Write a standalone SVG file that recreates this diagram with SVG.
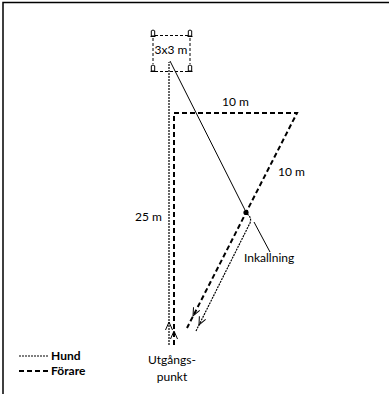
<svg xmlns="http://www.w3.org/2000/svg" xmlns:xlink="http://www.w3.org/1999/xlink" width="391" height="394" viewBox="0 0 391 394">
<style>
text{font-family:"Lato","Open Sans","DejaVu Sans",sans-serif;font-size:12px;fill:#000}
.b{font-weight:bold}
.hund{fill:none;stroke:#000;stroke-width:1.2;stroke-dasharray:2 1}
.forare{fill:none;stroke:#000;stroke-width:2;stroke-dasharray:5 3}
.solid{fill:none;stroke:#000;stroke-width:1}
.sq{fill:none;stroke:#000;stroke-width:1;stroke-dasharray:3 2}
.cone{fill:#fff;stroke:#000;stroke-width:1}
.chev{fill:none;stroke:#000;stroke-width:1}
</style>
<defs>
<path id="chev" d="M-8,-3.5 L0,0 L-8,3.5"/>
<g id="cone"><path d="M-1.7,6 L-1.7,0.8 Q0,-0.8 1.7,0.8 L1.7,6 Z"/><path d="M-2.5,6.5 L2.5,6.5"/></g>
</defs>
<rect width="391" height="394" fill="#fff"/>
<path d="M3,394 L3,2.5 L389,2.5" fill="none" stroke="#000" stroke-width="1.5"/>
<g id="square">
<path class="sq" d="M155,35.5 L188,35.5 M155,71.5 L188,71.5 M153,38 L153,64 M190,38 L190,64"/>
<g class="cone">
<use xlink:href="#cone" transform="translate(153,30)"/>
<use xlink:href="#cone" transform="translate(190,30)"/>
<use xlink:href="#cone" transform="translate(153,65)"/>
<use xlink:href="#cone" transform="translate(190,65)"/>
</g>
<text x="171" y="54" text-anchor="middle">3x3 m</text>
</g>
<g id="connectors">
<path class="hund" d="M169,345 L169,62"/>
<path class="solid" d="M170,61 L246,212"/>
<path class="forare" d="M174,345 L174,113 L297,113 L187,328"/>
<path class="hund" d="M247,214 Q252,217 250,223 L196,331"/>
<g class="chev">
<use xlink:href="#chev" transform="translate(169,322) rotate(-90)"/>
<use xlink:href="#chev" transform="translate(174,331) rotate(-90)"/>
<use xlink:href="#chev" transform="translate(193,316) rotate(117)"/>
<use xlink:href="#chev" transform="translate(199,325) rotate(116)"/>
</g>
<path class="solid" d="M254,222 L270,252"/>
</g>
<g id="inkallning">
<circle cx="246" cy="212.5" r="2.6" fill="#000"/>
<text x="244" y="262">Inkallning</text>
</g>
<g id="labels">
<text x="222" y="106">10 m</text>
<text x="278" y="176">10 m</text>
<text x="135" y="221">25 m</text>
<text x="172" y="364" text-anchor="middle">Utgångs-</text>
<text x="172" y="381" text-anchor="middle">punkt</text>
</g>
<g id="legend">
<path class="hund" d="M19,356 L48,356"/>
<path class="forare" d="M19,371 L48,371"/>
<text class="b" x="51" y="360">Hund</text>
<text class="b" x="51" y="375">Förare</text>
</g>
</svg>
